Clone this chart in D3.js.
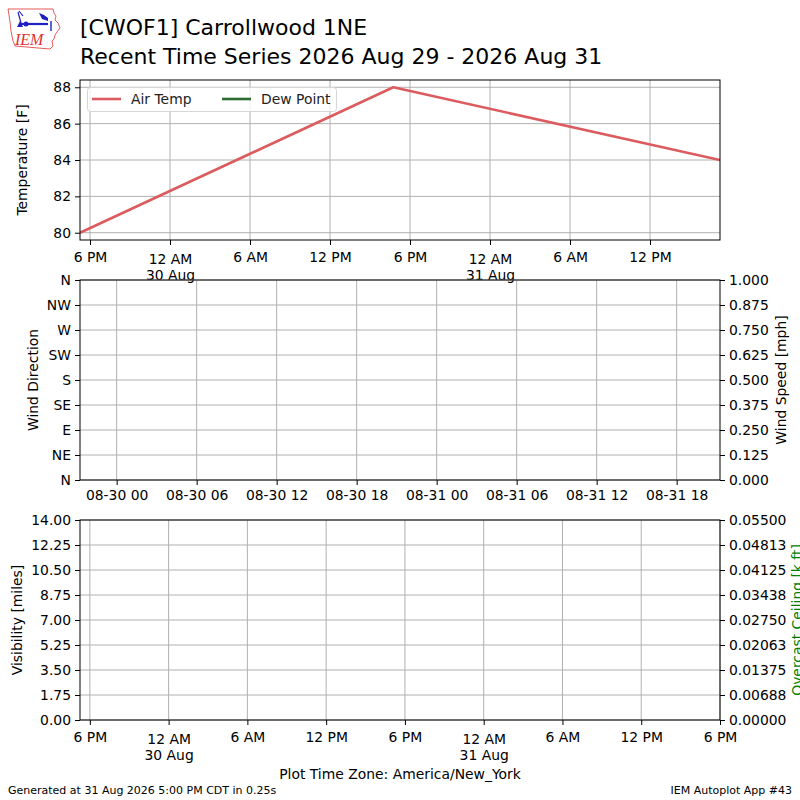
<!DOCTYPE html>
<html>
<head>
<meta charset="utf-8">
<script src="https://cdn.jsdelivr.net/npm/d3@7"></script>
<style>
  body { margin: 0; background: #fff; }
  svg { display: block; font-family: "DejaVu Sans", sans-serif; }
  .tick text { font-family: "DejaVu Sans", sans-serif; fill: #000; }
</style>
</head>
<body>
<script>
// station and time window (times are America/New_York wall clock)
const stationTitle = "[CWOF1] Carrollwood 1NE";
const subTitle = "Recent Time Series 2026 Aug 29 - 2026 Aug 31";
const obsTimes = ["2026-08-29 17:15", "2026-08-30 16:45", "2026-08-31 17:15"];
const airTemp = [80, 88, 84];
const dewPoint = [];   // no dew point reported
const plotEnd = "2026-08-31 18:00";
const utcOffsetHours = 4;  // EDT -> UTC for the wind panel ticks

// tick labels
const tempTicks = [80, 82, 84, 86, 88];
const dirTicks = [0, 45, 90, 135, 180, 225, 270, 315, 360];
const dirLabels = ["N", "NE", "E", "SE", "S", "SW", "W", "NW", "N"];
const speedTicks = [0, 0.125, 0.25, 0.375, 0.5, 0.625, 0.75, 0.875, 1.0];
const speedLabels = ["0.000", "0.125", "0.250", "0.375", "0.500", "0.625", "0.750", "0.875", "1.000"];
const visTicks = [0, 1.75, 3.5, 5.25, 7, 8.75, 10.5, 12.25, 14];
const visLabels = ["0.00", "1.75", "3.50", "5.25", "7.00", "8.75", "10.50", "12.25", "14.00"];
const ceilTicks = [0, 0.006875, 0.01375, 0.020625, 0.0275, 0.034375, 0.04125, 0.048125, 0.055];
const ceilLabels = ["0.00000", "0.00688", "0.01375", "0.02063", "0.02750", "0.03438", "0.04125", "0.04813", "0.05500"];

const W = 800, H = 800;
const left = 80, right = 720;
const panels = {
  temp: {top: 80, bottom: 240},
  wind: {top: 280, bottom: 480},
  vis: {top: 520, bottom: 720}
};
const fs = 13.9;
const gridColor = "#b0b0b0";

const parseT = d3.utcParse("%Y-%m-%d %H:%M");
const times = obsTimes.map(parseT);
const tStart = times[0], tEnd = times[times.length - 1];

const svg = d3.select("body").append("svg")
  .attr("width", W).attr("height", H);

// ---- logo (rough IEM mark)
const logo = svg.append("g");
logo.append("path")
  .attr("d", "M8,9 L53,9 L54,13 L56,16 L55,20 L58,23 L60,28 L57,32 L55,35 L54,39 L52,41 L53,46 L50,49 L15,46 L13,41 L11,31 L10,22 L9,15 Z")
  .attr("fill", "none").attr("stroke", "#e03030").attr("stroke-width", 0.8);
logo.append("line").attr("x1", 21).attr("y1", 24).attr("x2", 48).attr("y2", 24)
  .attr("stroke", "#2020c0").attr("stroke-width", 2.2);
logo.append("line").attr("x1", 18).attr("y1", 12).attr("x2", 21).attr("y2", 23)
  .attr("stroke", "#2020c0").attr("stroke-width", 1.2);
logo.append("line").attr("x1", 19).attr("y1", 11).attr("x2", 23).attr("y2", 16)
  .attr("stroke", "#2020c0").attr("stroke-width", 1.2);
logo.append("path").attr("d", "M17,27 L20,21 L23,27 Z").attr("fill", "#2020c0");
logo.append("circle").attr("cx", 26).attr("cy", 24).attr("r", 2.5).attr("fill", "#2020c0");
logo.append("path").attr("d", "M39,13 L44,15 L48,18 L48,21 L42,19 Z").attr("fill", "#2020c0");
logo.append("line").attr("x1", 51).attr("y1", 21).attr("x2", 51).attr("y2", 31)
  .attr("stroke", "#2020c0").attr("stroke-width", 1.4);
logo.append("text").attr("x", 15).attr("y", 45)
  .attr("font-family", "Liberation Serif, serif").attr("font-style", "italic")
  .attr("font-size", 16).attr("fill", "#e03030").text("IEM");

// ---- titles
svg.append("text").attr("x", 80).attr("y", 35).attr("font-size", 22).text(stationTitle);
svg.append("text").attr("x", 80).attr("y", 64).attr("font-size", 22).text(subTitle);

// ---- scales
const xTop = d3.scaleUtc().domain([tStart, tEnd]).range([left, right]);
const xWindUtc = d3.scaleUtc()
  .domain([d3.utcHour.offset(tStart, utcOffsetHours), d3.utcHour.offset(tEnd, utcOffsetHours)])
  .range([left, right]);
const xBot = d3.scaleUtc().domain([tStart, parseT(plotEnd)]).range([left, right]);

const yTemp = d3.scaleLinear().domain([79.6, 88.4]).range([panels.temp.bottom, panels.temp.top]);
const yDir = d3.scaleLinear().domain([0, 360]).range([panels.wind.bottom, panels.wind.top]);
const ySpeed = d3.scaleLinear().domain([0, 1]).range([panels.wind.bottom, panels.wind.top]);
const yVis = d3.scaleLinear().domain([0, 14]).range([panels.vis.bottom, panels.vis.top]);
const yCeil = d3.scaleLinear().domain([0, 0.055]).range([panels.vis.bottom, panels.vis.top]);

const hourFmt = d3.utcFormat("%-I %p");
const dayFmt = d3.utcFormat("%-d %b");
const utcFmt = d3.utcFormat("%m-%d %H");

function gridLines(g, xs, ys, p) {
  g.selectAll(null).data(xs).enter().append("line")
    .attr("x1", d => d).attr("x2", d => d)
    .attr("y1", p.top).attr("y2", p.bottom)
    .attr("stroke", gridColor).attr("stroke-width", 1);
  g.selectAll(null).data(ys).enter().append("line")
    .attr("x1", left).attr("x2", right)
    .attr("y1", d => d).attr("y2", d => d)
    .attr("stroke", gridColor).attr("stroke-width", 1);
}

function styleAxis(g) {
  g.select(".domain").remove();
  g.selectAll(".tick line").attr("stroke", "#000").attr("stroke-width", 1);
  g.selectAll(".tick text").attr("font-size", fs);
}

// time axis with 12 AM getting the date on a second line
function localTimeAxis(scale, p) {
  const ticks = scale.ticks(d3.utcHour.every(6));
  const g = svg.append("g").attr("transform", `translate(0,${p.bottom})`)
    .call(d3.axisBottom(scale).tickValues(ticks).tickSize(5).tickPadding(5).tickSizeOuter(0).tickFormat(""));
  styleAxis(g);
  g.selectAll(".tick text").each(function(d) {
    const t = d3.select(this).attr("y", 9).attr("dy", null);
    const two = d.getUTCHours() === 0;
    t.append("tspan").attr("x", 0).attr("dy", two ? "1.05em" : "0.95em").text(hourFmt(d));
    if (two) {
      t.append("tspan").attr("x", 0).attr("dy", "1.15em").text(dayFmt(d));
    }
  });
  return ticks;
}

// ---- panel 1: temperature
const pT = panels.temp;
const gT = svg.append("g");
const tTicks = xTop.ticks(d3.utcHour.every(6));
gridLines(gT, tTicks.map(xTop), tempTicks.map(yTemp), pT);

svg.append("clipPath").attr("id", "clipT")
  .append("rect").attr("x", left).attr("y", pT.top).attr("width", right - left).attr("height", pT.bottom - pT.top);

const line = d3.line().x((d, i) => xTop(times[i])).y(d => yTemp(d));
svg.append("path").datum(airTemp)
  .attr("clip-path", "url(#clipT)")
  .attr("d", line).attr("fill", "none")
  .attr("stroke", "#dc5b5f").attr("stroke-width", 2.6).attr("stroke-linejoin", "round");
svg.append("path").datum(dewPoint)
  .attr("d", line)
  .attr("fill", "none").attr("stroke", "#2e6b30").attr("stroke-width", 2.6);

localTimeAxis(xTop, pT);
const gTy = svg.append("g").attr("transform", `translate(${left},0)`)
  .call(d3.axisLeft(yTemp).tickValues(tempTicks).tickSize(5).tickPadding(4).tickFormat(d3.format("d")));
styleAxis(gTy);

// legend
const leg = svg.append("g");
leg.append("rect").attr("x", 87.5).attr("y", 87.5).attr("width", 249).attr("height", 24)
  .attr("rx", 3).attr("fill", "#fff").attr("fill-opacity", 0.8)
  .attr("stroke", "#d6d6d6").attr("stroke-width", 1);
const legItems = [
  {label: "Air Temp", color: "#dc5b5f", x: 92},
  {label: "Dew Point", color: "#2e6b30", x: 222}
];
legItems.forEach(it => {
  leg.append("line").attr("x1", it.x).attr("x2", it.x + 29).attr("y1", 99).attr("y2", 99)
    .attr("stroke", it.color).attr("stroke-width", 2.6);
  leg.append("text").attr("x", it.x + 39).attr("y", 104).attr("font-size", fs).attr("fill", "#222").text(it.label);
});

svg.append("rect").attr("x", left).attr("y", pT.top).attr("width", right - left).attr("height", pT.bottom - pT.top)
  .attr("fill", "none").attr("stroke", "#000").attr("stroke-width", 1);

// ---- panel 2: wind (ticks labelled in UTC)
const pW = panels.wind;
const gW = svg.append("g");
const wTicks = xWindUtc.ticks(d3.utcHour.every(6));
gridLines(gW, wTicks.map(xWindUtc), dirTicks.map(yDir), pW);
const gWx = svg.append("g").attr("transform", `translate(0,${pW.bottom})`)
  .call(d3.axisBottom(xWindUtc).tickValues(wTicks).tickSize(5).tickPadding(5).tickSizeOuter(0).tickFormat(utcFmt));
styleAxis(gWx);
const gWy = svg.append("g").attr("transform", `translate(${left},0)`)
  .call(d3.axisLeft(yDir).tickValues(dirTicks).tickSize(5).tickPadding(4).tickFormat((d, i) => dirLabels[i]));
styleAxis(gWy);
const gWr = svg.append("g").attr("transform", `translate(${right},0)`)
  .call(d3.axisRight(ySpeed).tickValues(speedTicks).tickSize(5).tickPadding(4).tickFormat((d, i) => speedLabels[i]));
styleAxis(gWr);
svg.append("rect").attr("x", left).attr("y", pW.top).attr("width", right - left).attr("height", pW.bottom - pW.top)
  .attr("fill", "none").attr("stroke", "#000").attr("stroke-width", 1);

// ---- panel 3: visibility / ceiling
const pV = panels.vis;
const gV = svg.append("g");
const vTicks = xBot.ticks(d3.utcHour.every(6));
gridLines(gV, vTicks.map(xBot), visTicks.map(yVis), pV);
localTimeAxis(xBot, pV);
const gVy = svg.append("g").attr("transform", `translate(${left},0)`)
  .call(d3.axisLeft(yVis).tickValues(visTicks).tickSize(5).tickPadding(4).tickFormat((d, i) => visLabels[i]));
styleAxis(gVy);
const gVr = svg.append("g").attr("transform", `translate(${right},0)`)
  .call(d3.axisRight(yCeil).tickValues(ceilTicks).tickSize(5).tickPadding(4).tickFormat((d, i) => ceilLabels[i]));
styleAxis(gVr);
svg.append("rect").attr("x", left).attr("y", pV.top).attr("width", right - left).attr("height", pV.bottom - pV.top)
  .attr("fill", "none").attr("stroke", "#000").attr("stroke-width", 1);

// ---- axis labels
function vLabel(x, yMid, txt, color) {
  svg.append("text").attr("transform", `translate(${x},${yMid}) rotate(-90)`)
    .attr("text-anchor", "middle").attr("dy", "0.35em")
    .attr("font-size", fs).attr("fill", color || "#000").text(txt);
}
vLabel(22, 160, "Temperature [F]");
vLabel(33, 380, "Wind Direction");
vLabel(781, 380, "Wind Speed [mph]");
vLabel(17, 620, "Visibility [miles]");
vLabel(797, 620, "Overcast Ceiling [k ft]", "#008000");

// ---- footer
svg.append("text").attr("x", 400).attr("y", 779).attr("text-anchor", "middle")
  .attr("font-size", fs).text("Plot Time Zone: America/New_York");
svg.append("text").attr("x", 8).attr("y", 794).attr("font-size", 11)
  .text("Generated at 31 Aug 2026 5:00 PM CDT in 0.25s");
svg.append("text").attr("x", 792).attr("y", 794).attr("text-anchor", "end").attr("font-size", 11)
  .text("IEM Autoplot App #43");
</script>
</body>
</html>
